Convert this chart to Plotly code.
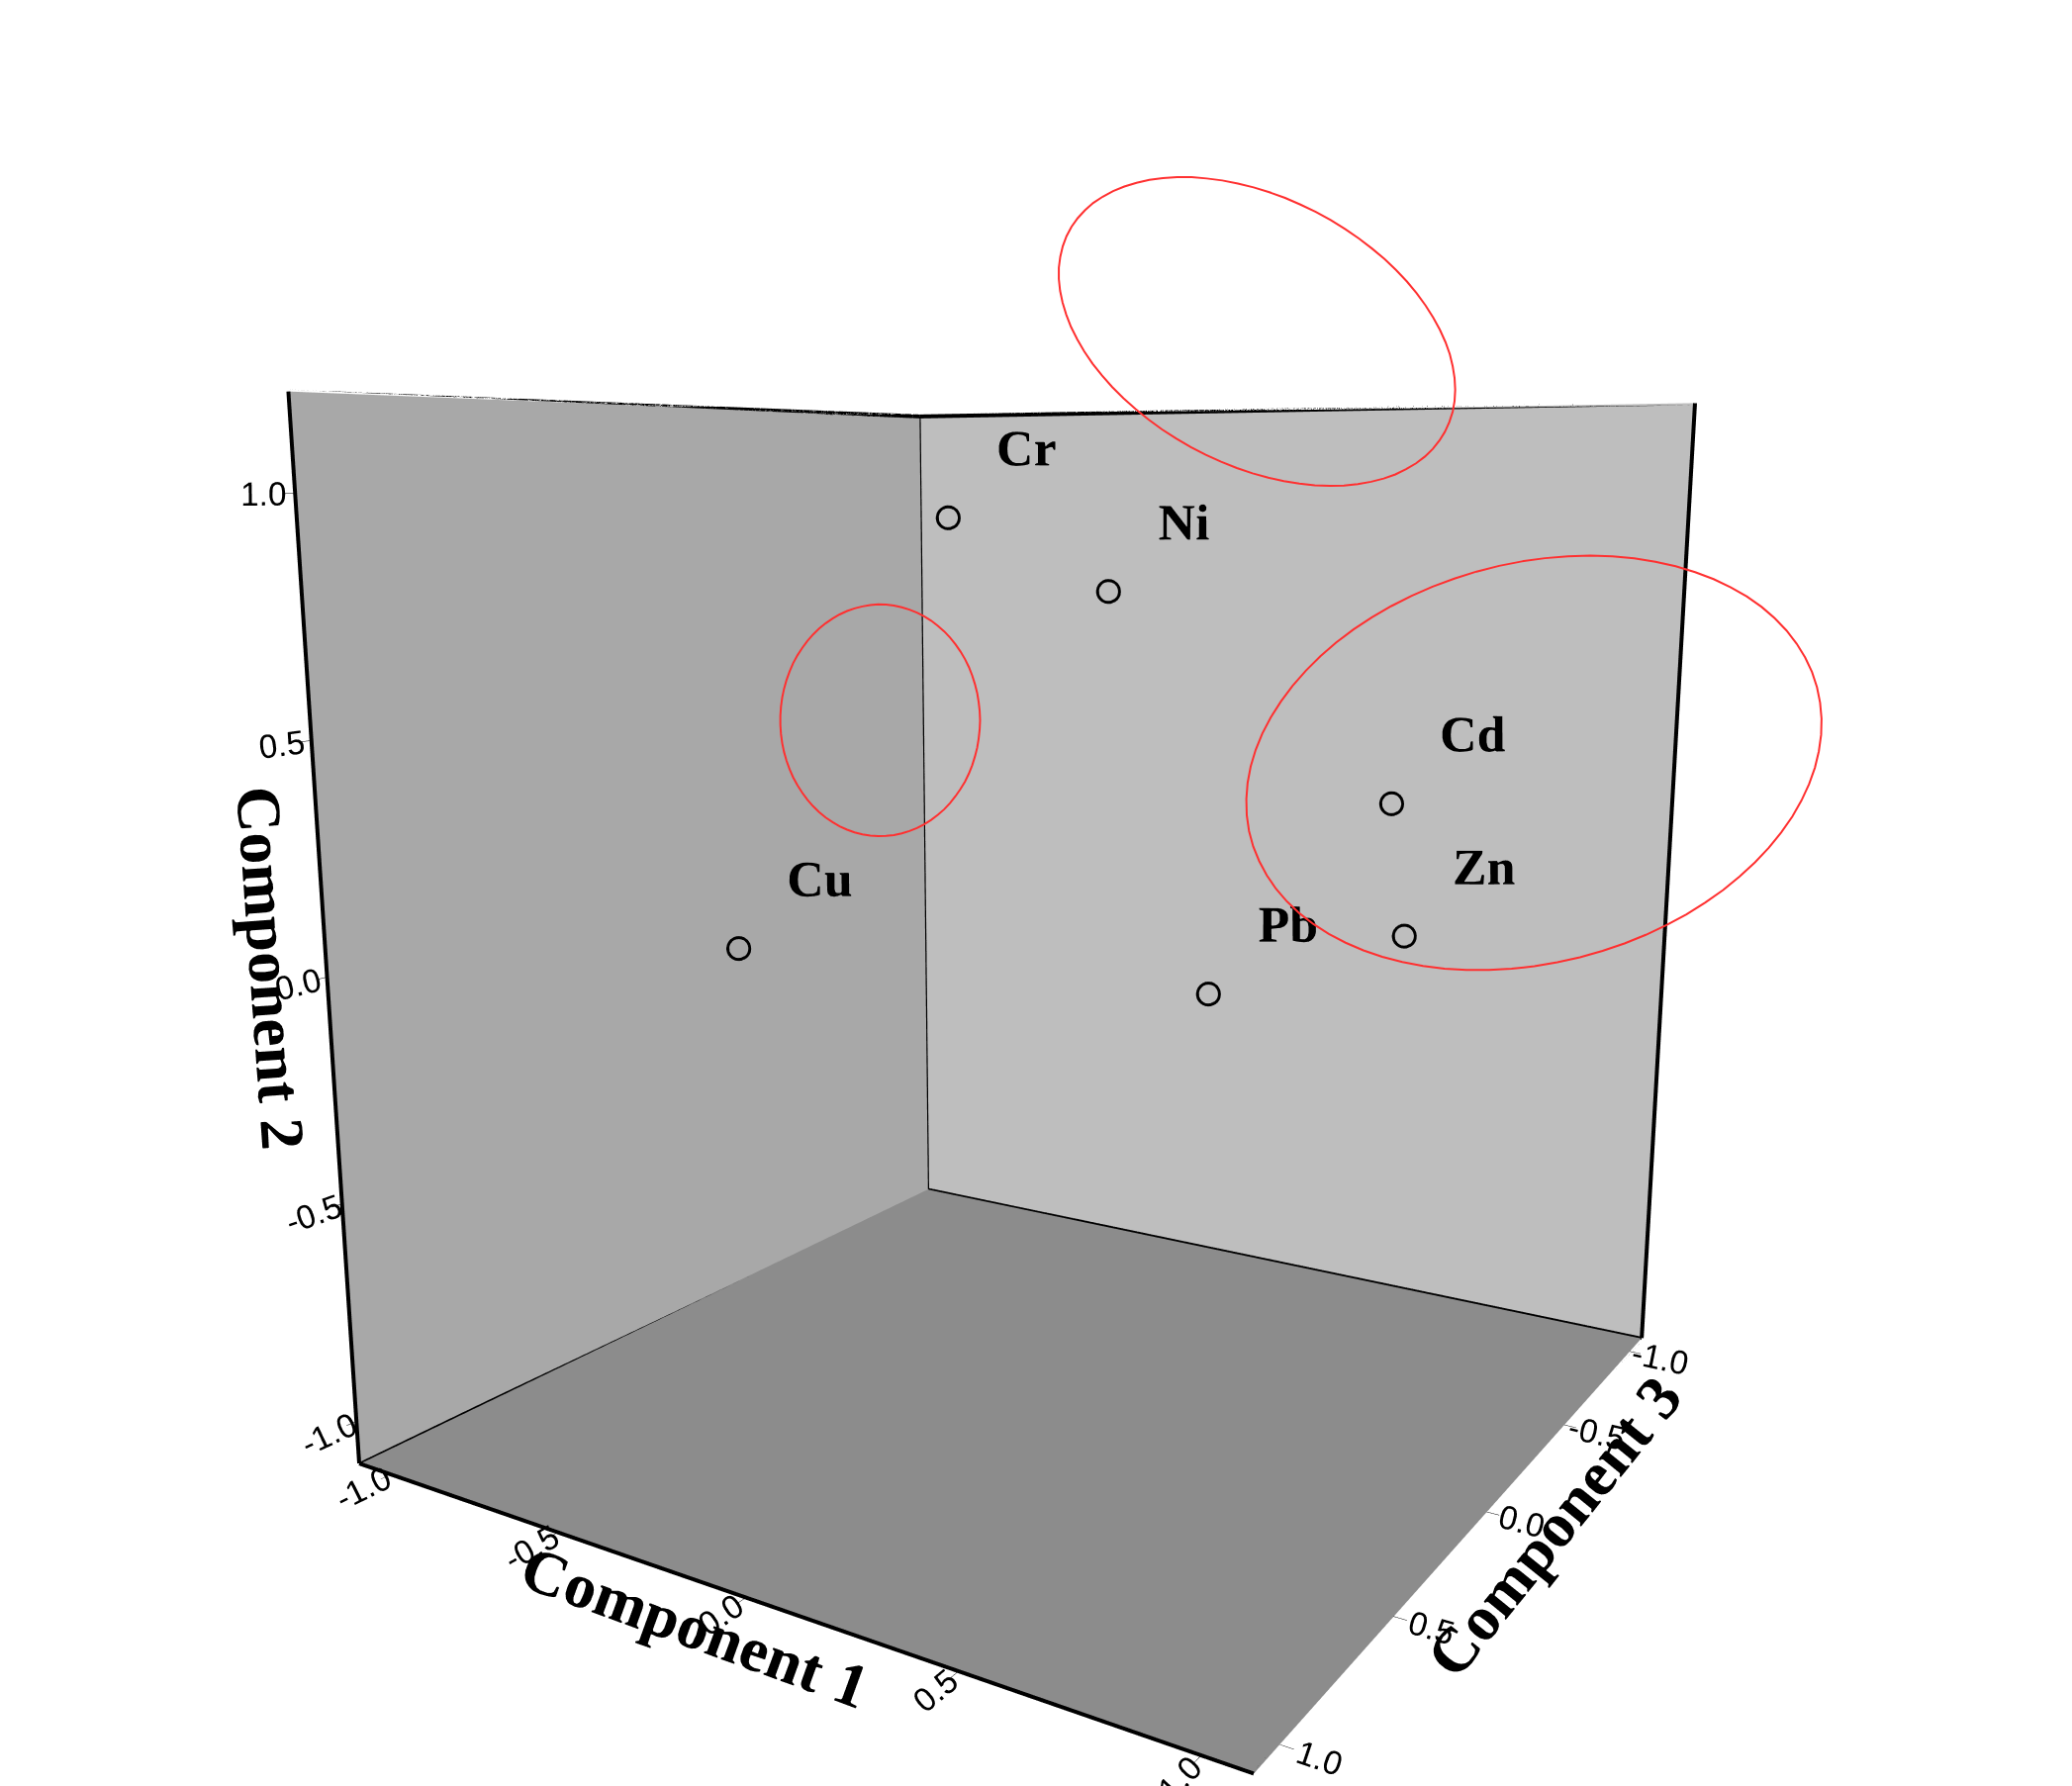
import plotly.graph_objects as go
import numpy as np

elements = ["Cr", "Ni", "Cd", "Zn", "Pb", "Cu"]
comp1 = [-0.05, 0.25, 0.75, 0.85, 0.55, -0.10]
comp2 = [0.95, 0.80, 0.35, 0.10, 0.00, 0.15]
comp3 = [0.30, 0.15, -0.20, -0.05, 0.25, 0.95]
ticks = [-1.0, -0.5, 0.0, 0.5, 1.0]
ticktext = ["-1.0", "-0.5", "0.0", "0.5", "1.0"]

fig = go.Figure()
fig.add_trace(go.Scatter3d(
    x=comp3, y=comp1, z=comp2, mode="markers+text", text=elements,
    textposition="top right",
    textfont=dict(family="Liberation Serif", size=52, color="black", weight="bold"),
    marker=dict(size=14, color="black", symbol="circle-open", line=dict(color="black", width=4)),
    showlegend=False))

lo, hi = -1.1, 1.1
zl, zh = -1.1, 1.2
edges = [
    [(hi, hi, zl), (hi, lo, zl)], [(hi, hi, zl), (lo, hi, zl)],
    [(hi, lo, zl), (lo, lo, zl)], [(lo, lo, zl), (lo, hi, zl)],
    [(hi, lo, zl), (hi, lo, zh)], [(lo, lo, zl), (lo, lo, zh)], [(lo, hi, zl), (lo, hi, zh)],
    [(hi, lo, zh), (lo, lo, zh)], [(lo, lo, zh), (lo, hi, zh)],
]
for a, b in edges:
    fig.add_trace(go.Scatter3d(x=[a[0], b[0]], y=[a[1], b[1]], z=[a[2], b[2]], mode="lines",
                               line=dict(color="black", width=8), showlegend=False, hoverinfo="skip"))

ax_common = dict(tickvals=ticks, ticktext=ticktext, showgrid=False, zeroline=False,
                 showbackground=True, ticks="outside", tickcolor="black", ticklen=10,
                 tickfont=dict(family="Liberation Sans", size=20, color="black"),
                 showspikes=False)
title_font = dict(family="Liberation Serif", size=64, color="black", weight="bold")

fig.update_layout(
    width=2094, height=1805, paper_bgcolor="white",
    margin=dict(l=0, r=0, t=0, b=0),
    scene=dict(
        xaxis=dict(ax_common, range=[lo, hi], backgroundcolor="#bebebe",
                   title=dict(text="Component 3", font=title_font)),
        yaxis=dict(ax_common, range=[lo, hi], backgroundcolor="#a8a8a8",
                   title=dict(text="Component 1", font=title_font)),
        zaxis=dict(ax_common, range=[zl, zh], backgroundcolor="#8c8c8c",
                   title=dict(text="Component 2", font=title_font)),
        aspectmode="manual", aspectratio=dict(x=1, y=1, z=1.05),
        camera=dict(eye=dict(x=1.85, y=1.15, z=0.45), center=dict(x=0, y=0, z=0.02),
                    projection=dict(type="perspective")),
    ),
)

def ellipse_path(cx, cy, rx, ry, ang, W=2094, H=1805):
    t = np.linspace(0, 2 * np.pi, 80)
    a = np.deg2rad(ang)
    px = cx + rx * np.cos(t) * np.cos(a) - ry * np.sin(t) * np.sin(a)
    py = cy + rx * np.cos(t) * np.sin(a) + ry * np.sin(t) * np.cos(a)
    pts = [(x / W, 1 - y / H) for x, y in zip(px, py)]
    return "M " + " L ".join(f"{x:.4f},{y:.4f}" for x, y in pts) + " Z"

s = 2094 / 1556
for cx, cy, rx, ry, ang in [(938, 243, 160, 100, 28), (655, 535, 75, 87, 0), (1146, 567, 220, 150, -15)]:
    fig.add_shape(type="path", xref="paper", yref="paper",
                  path=ellipse_path(cx * s, cy * s, rx * s, ry * s, ang),
                  line=dict(color="#ff3030", width=2))

fig.write_html("out.html")
